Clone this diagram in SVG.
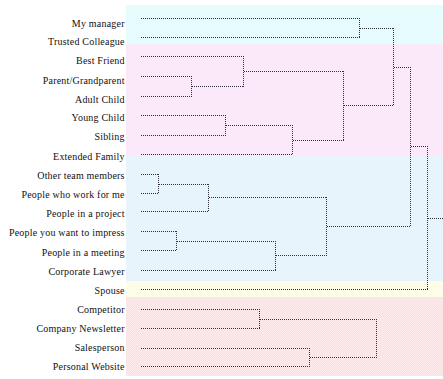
<svg xmlns="http://www.w3.org/2000/svg" width="443" height="379" viewBox="0 0 443 379">
<style>
.lbl{font-family:"Liberation Serif","Times New Roman",serif;font-size:10px;letter-spacing:0.2px;fill:#111;text-anchor:end}
.ln{fill:none;stroke:#2e2e3c;stroke-width:1;stroke-dasharray:1 1}
.mesh{fill:url(#mesh)}
</style>
<defs>
<pattern id="mesh" width="2" height="2" patternUnits="userSpaceOnUse">
<rect x="0" y="0" width="1" height="1" fill="#fff" fill-opacity="0.35"/>
<rect x="1" y="1" width="1" height="1" fill="#fff" fill-opacity="0.35"/>
</pattern>
</defs>
<rect width="443" height="379" fill="#fff"/>
<g id="bands">
<rect x="126" y="5" width="317" height="39" fill="#DCFEFE"/>
<rect x="126" y="44" width="317" height="111" fill="#FEE1FA"/>
<rect x="126" y="155" width="317" height="126" fill="#E0F2FE"/>
<rect x="126" y="281" width="317" height="16" fill="#FEFEDC"/>
<rect x="126" y="297" width="317" height="79" fill="#FEDFE0"/>
<rect x="126" y="5" width="317" height="371" class="mesh"/>
</g>
<g id="connectors">
<path class="ln" d="M141 18.5H360M141 37.5H360M359.5 18V38"/>
<path class="ln" d="M141 76.5H192M141 96.5H192M191.5 76V97"/>
<path class="ln" d="M141 56.5H244M192 86.5H244M243.5 56V87"/>
<path class="ln" d="M141 115.5H226M141 135.5H226M225.5 115V136"/>
<path class="ln" d="M226 125.5H293M141 154.5H293M292.5 125V155"/>
<path class="ln" d="M244 71.5H344M293 140.5H344M343.5 71V141"/>
<path class="ln" d="M360 28.5H394M344 105.5H394M393.5 28V106"/>
<path class="ln" d="M141 174.5H159M141 193.5H159M158.5 174V194"/>
<path class="ln" d="M159 184.5H209M141 211.5H209M208.5 184V212"/>
<path class="ln" d="M141 231.5H177M141 250.5H177M176.5 231V251"/>
<path class="ln" d="M177 241.5H276M141 270.5H276M275.5 241V271"/>
<path class="ln" d="M209 197.5H327M276 255.5H327M326.5 197V256"/>
<path class="ln" d="M394 67.5H411M327 226.5H411M410.5 67V227"/>
<path class="ln" d="M411 146.5H428M141 289.5H428M427.5 146V290M428 218.5H443"/>
<path class="ln" d="M141 309.5H260M141 328.5H260M259.5 309V329"/>
<path class="ln" d="M141 348.5H310M141 366.5H310M309.5 348V367"/>
<path class="ln" d="M260 319.5H377M310 357.5H377M376.5 319V358"/>
</g>
<g id="n-my-manager"><text class="lbl" x="124.7" y="26.7">My manager</text></g>
<g id="n-trusted-colleague"><text class="lbl" x="124.7" y="45.3">Trusted Colleague</text></g>
<g id="n-best-friend"><text class="lbl" x="124.7" y="64.3">Best Friend</text></g>
<g id="n-parent"><text class="lbl" x="124.7" y="83.5">Parent/Grandparent</text></g>
<g id="n-adult-child"><text class="lbl" x="124.7" y="102.5">Adult Child</text></g>
<g id="n-young-child"><text class="lbl" x="124.7" y="121">Young Child</text></g>
<g id="n-sibling"><text class="lbl" x="124.7" y="140.3">Sibling</text></g>
<g id="n-extended-family"><text class="lbl" x="124.7" y="159.5">Extended Family</text></g>
<g id="n-other-team"><text class="lbl" x="124.7" y="179.3">Other team members</text></g>
<g id="n-work-for-me"><text class="lbl" x="124.7" y="198">People who work for me</text></g>
<g id="n-project"><text class="lbl" x="124.7" y="217">People in a project</text></g>
<g id="n-impress"><text class="lbl" x="124.7" y="236.2">People you want to impress</text></g>
<g id="n-meeting"><text class="lbl" x="124.7" y="256">People in a meeting</text></g>
<g id="n-lawyer"><text class="lbl" x="124.7" y="275.3">Corporate Lawyer</text></g>
<g id="n-spouse"><text class="lbl" x="124.7" y="294">Spouse</text></g>
<g id="n-competitor"><text class="lbl" x="124.7" y="313.3">Competitor</text></g>
<g id="n-newsletter"><text class="lbl" x="124.7" y="332.3">Company Newsletter</text></g>
<g id="n-salesperson"><text class="lbl" x="124.7" y="351">Salesperson</text></g>
<g id="n-website"><text class="lbl" x="124.7" y="370">Personal Website</text></g>
</svg>
